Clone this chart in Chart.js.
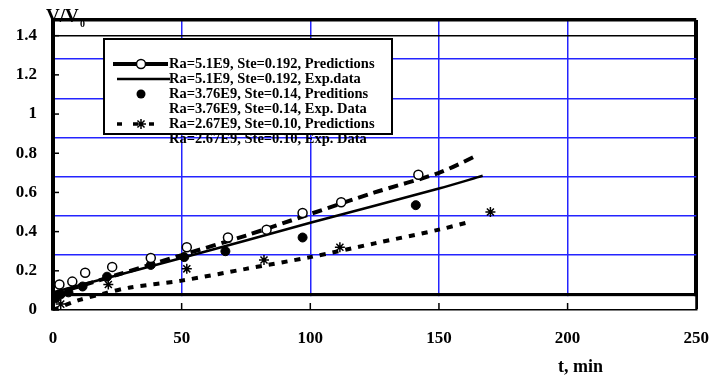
<!DOCTYPE html>
<html>
<head>
<meta charset="utf-8">
<script src="https://cdn.jsdelivr.net/npm/chart.js@4/dist/chart.umd.min.js"></script>
<style>
body { margin: 0; background: #fff; }
</style>
</head>
<body>
<canvas id="canvas" width="709" height="379"></canvas>
<script>
// axis ticks
var xTicks = [0, 50, 100, 150, 200, 250];
var yTicks = [0, 0.2, 0.4, 0.6, 0.8, 1, 1.2, 1.4];
var yTickLabels = ['0', '0.2', '0.4', '0.6', '0.8', '1', '1.2', '1.4'];
var gridTicks = [0, 0.2, 0.4, 0.6, 0.8, 1, 1.2, 1.4];

// Ra=5.1E9, Ste=0.192
var tPred51 = [0, 25, 50, 75, 100, 125, 150, 165];
var vPred51 = [0.08, 0.18, 0.28, 0.38, 0.49, 0.60, 0.70, 0.79];
var tExp51 = [0, 50, 100, 150, 167];
var vExp51 = [0.09, 0.265, 0.445, 0.62, 0.685];
var tCircles51 = [2.5, 7.5, 12.5, 23, 38, 52, 68, 83, 97, 112, 142];
var vCircles51 = [0.13, 0.145, 0.19, 0.22, 0.265, 0.32, 0.37, 0.41, 0.495, 0.55, 0.69];

// Ra=3.76E9, Ste=0.14
var tDots376 = [1, 3, 6, 11.5, 21, 38, 51, 67, 97, 141];
var vDots376 = [0.06, 0.08, 0.09, 0.12, 0.17, 0.23, 0.27, 0.30, 0.37, 0.535];

// Ra=2.67E9, Ste=0.10
var tPred267 = [0, 10, 20, 30, 50, 75, 100, 125, 150, 162];
var vPred267 = [0, 0.05, 0.085, 0.115, 0.15, 0.21, 0.27, 0.34, 0.41, 0.45];
var tStars267 = [3, 21.5, 52, 82, 111.5, 170];
var vStars267 = [0.03, 0.13, 0.21, 0.255, 0.32, 0.50];

var legendLabels = [
	'Ra=5.1E9, Ste=0.192, Predictions',
	'Ra=5.1E9, Ste=0.192, Exp.data',
	'Ra=3.76E9, Ste=0.14, Preditions',
	'Ra=3.76E9, Ste=0.14, Exp. Data',
	'Ra=2.67E9, Ste=0.10, Predictions',
	'Ra=2.67E9, Ste=0.10, Exp. Data'
];

var gridOffset = 0.08;
var serif = '"Liberation Serif", "Times New Roman", serif';
var blue = '#2424ff';
var clear = 'rgba(0,0,0,0)';

function pts(xs, ys) {
	return xs.map(function(x, i) { return {x: x, y: ys[i]}; });
}

// white strip between the inner frame and the x axis, plus inner tick marks
var frame = {
	id: 'frame',
	beforeDatasetsDraw: function(chart) {
		var ctx = chart.ctx, a = chart.chartArea;
		var top = chart.scales.y2.getPixelForValue(0) + 2;
		ctx.save();
		ctx.fillStyle = '#fff';
		ctx.fillRect(a.left + 2, top, a.right - a.left - 3, a.bottom - 1 - top);
		ctx.strokeStyle = '#000';
		ctx.lineWidth = 1.5;
		xTicks.slice(1, -1).forEach(function(v) {
			var px = chart.scales.x.getPixelForValue(v);
			ctx.beginPath();
			ctx.moveTo(px, a.bottom);
			ctx.lineTo(px, a.bottom - 7);
			ctx.stroke();
		});
		yTicks.forEach(function(v) {
			var py = chart.scales.y.getPixelForValue(v);
			ctx.beginPath();
			ctx.moveTo(a.left, py);
			ctx.lineTo(a.left + 6, py);
			ctx.stroke();
		});
		ctx.restore();
	},
	afterDraw: function(chart) {
		var ctx = chart.ctx;
		ctx.save();
		ctx.fillStyle = '#000';
		ctx.textBaseline = 'alphabetic';
		ctx.font = 'bold 19px ' + serif;
		ctx.fillText('V/V', 46, 22);
		ctx.font = 'bold 10px ' + serif;
		ctx.fillText('0', 80, 27);
		ctx.font = 'bold 18px ' + serif;
		ctx.fillText('t, min', 558, 372);

		// legend
		ctx.fillStyle = '#fff';
		ctx.fillRect(104, 39, 288, 95);
		ctx.strokeStyle = '#000';
		ctx.lineWidth = 2;
		ctx.strokeRect(104, 39, 288, 95);
		ctx.fillStyle = '#000';
		ctx.font = 'bold 14.5px ' + serif;
		ctx.textBaseline = 'middle';
		legendLabels.forEach(function(t, i) {
			ctx.fillText(t, 169, 64 + i * 15);
		});
		// samples
		ctx.lineWidth = 4;
		ctx.beginPath(); ctx.moveTo(113, 64); ctx.lineTo(168, 64); ctx.stroke();
		ctx.lineWidth = 1.5;
		ctx.fillStyle = '#fff';
		ctx.beginPath(); ctx.arc(141, 64, 4.5, 0, Math.PI * 2); ctx.fill(); ctx.stroke();
		ctx.lineWidth = 2.5;
		ctx.beginPath(); ctx.moveTo(117, 79); ctx.lineTo(170, 79); ctx.stroke();
		ctx.fillStyle = '#000';
		ctx.beginPath(); ctx.arc(141, 94, 4.5, 0, Math.PI * 2); ctx.fill();
		ctx.lineWidth = 3.5;
		ctx.setLineDash([5, 11]);
		ctx.beginPath(); ctx.moveTo(117, 124); ctx.lineTo(160, 124); ctx.stroke();
		ctx.setLineDash([]);
		if (Chart.helpers && Chart.helpers.drawPoint) {
			ctx.lineWidth = 1.5;
			Chart.helpers.drawPoint(ctx, {pointStyle: 'star', radius: 5, rotation: 0, borderWidth: 1.5}, 141, 124);
		}
		ctx.restore();
	}
};

var ctx = document.getElementById('canvas').getContext('2d');

var config = {
	type: 'scatter',
	data: {
		datasets: [{
			label: legendLabels[0],
			data: pts(tCircles51, vCircles51),
			pointStyle: 'circle',
			pointRadius: 4.5,
			borderWidth: 1.5,
			borderColor: '#000',
			backgroundColor: '#fff',
			showLine: false
		}, {
			label: legendLabels[2],
			data: pts(tDots376, vDots376),
			pointStyle: 'circle',
			pointRadius: 4.5,
			borderColor: '#000',
			backgroundColor: '#000',
			showLine: false
		}, {
			label: legendLabels[5],
			data: pts(tStars267, vStars267),
			pointStyle: 'star',
			pointRadius: 5,
			borderWidth: 1.5,
			borderColor: '#000',
			backgroundColor: '#000',
			showLine: false
		}, {
			label: legendLabels[1],
			data: pts(tExp51, vExp51),
			showLine: true,
			pointRadius: 0,
			borderColor: '#000',
			borderWidth: 2.5,
			tension: 0.3
		}, {
			label: legendLabels[3],
			data: pts(tPred51, vPred51),
			showLine: true,
			pointRadius: 0,
			borderColor: '#000',
			borderWidth: 4,
			borderDash: [10, 6],
			tension: 0.3
		}, {
			label: legendLabels[4],
			data: pts(tPred267, vPred267),
			showLine: true,
			pointRadius: 0,
			borderColor: '#000',
			borderWidth: 4,
			borderDash: [6, 7],
			tension: 0.3
		}]
	},
	options: {
		responsive: false,
		animation: false,
		layout: { padding: { top: 20, right: 0, left: 0, bottom: 0 } },
		plugins: {
			legend: { display: false },
			tooltip: { enabled: false }
		},
		scales: {
			x: {
				type: 'linear',
				min: 0,
				max: 250,
				afterBuildTicks: function(s) { s.ticks = xTicks.map(function(v) { return {value: v}; }); },
				afterFit: function(s) { s.height = 69; },
				ticks: {
					color: '#000',
					padding: 0,
					font: { family: serif, size: 17, weight: 'bold' }
				},
				grid: {
					drawTicks: true,
					tickLength: 18,
					tickColor: clear,
					color: function(c) {
						if (c.tick.value === 250) return '#000';
						if (c.tick.value === 0) return clear;
						return blue;
					},
					lineWidth: function(c) { return c.tick.value === 250 ? 4 : 1.5; }
				},
				border: { color: '#000', width: 1.5 }
			},
			y: {
				min: 0,
				max: 1.48,
				afterBuildTicks: function(s) { s.ticks = yTicks.map(function(v) { return {value: v}; }); },
				afterFit: function(s) { s.width = 53; },
				ticks: {
					color: '#000',
					padding: 0,
					font: { family: serif, size: 17, weight: 'bold' },
					callback: function(v, i) { return yTickLabels[i]; }
				},
				grid: {
					drawTicks: true,
					tickLength: 16,
					tickColor: clear,
					color: function(c) { return c.tick.value === 1.4 ? '#000' : clear; },
					lineWidth: 1.5
				},
				border: { color: '#000', width: 4 }
			},
			y2: {
				position: 'left',
				min: -gridOffset,
				max: 1.48 - gridOffset,
				afterBuildTicks: function(s) { s.ticks = gridTicks.map(function(v) { return {value: v}; }); },
				afterFit: function(s) { s.width = 0; },
				ticks: { display: false },
				border: { display: false },
				grid: {
					drawTicks: false,
					color: function(c) {
						var v = c.tick.value;
						return (v === 0 || v === 1.4) ? '#000' : blue;
					},
					lineWidth: function(c) {
						var v = c.tick.value;
						return (v === 0 || v === 1.4) ? 3.5 : 1.5;
					}
				}
			}
		}
	},
	plugins: [frame]
};

var mychart = new Chart(ctx, config);
</script>
</body>
</html>
